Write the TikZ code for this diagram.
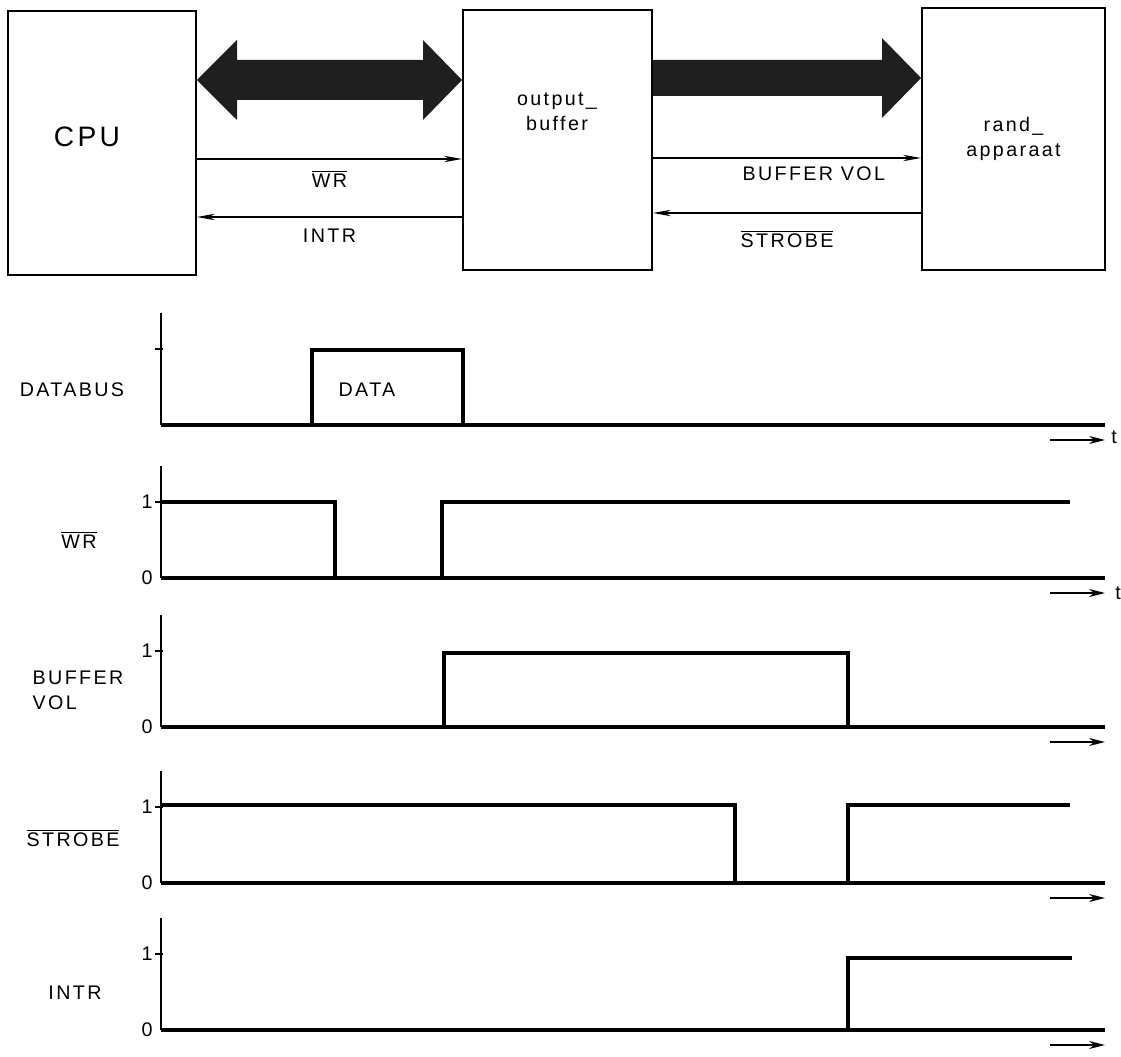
\documentclass[tikz,border=0pt]{standalone}
\usepackage{fontspec}
\setmainfont{Liberation Sans}[LetterSpace=12]
\usetikzlibrary{arrows.meta,positioning,calc}

\newcommand{\inv}[1]{$\overline{\mbox{#1}}$}

\begin{document}
\begin{tikzpicture}[x=0.025cm,y=-0.025cm,>={Stealth[length=4.5mm,width=1.6mm]},
  blok/.style={draw,line width=1.3pt,inner sep=0pt},
  lbl/.style={font=\fontsize{14}{18}\selectfont,align=center,inner sep=1pt},
  sig/.style={line width=2.3pt,line join=miter},
  ax/.style={line width=1.1pt},
  bus/.style={fill=black!88}]
  \useasboundingbox (0,0) rectangle (1121,1057);

  % blokschema
  \node[blok,minimum width=4.7cm,minimum height=6.6cm] (cpu) at (102,143) {};
  \node[font=\fontsize{20}{24}\selectfont] (cputxt) at (87,137) {CPU};
  \node[blok,minimum width=4.725cm,minimum height=6.5cm] (buf) at (557.5,140) {};
  \node[lbl] (buftxt) at (557,112) {output\_\\buffer};
  \node[blok,lbl,minimum width=4.575cm,minimum height=6.55cm] (rand) at (1013.5,139) {rand\_\\apparaat};

  % bussen
  \fill[bus] (cpu.east |- 0,80) -- (237,40) -- (237,60) -- (423,60) -- (423,40)
    -- (buf.west |- 0,80) -- (423,120) -- (423,100) -- (237,100) -- (237,120) -- cycle;
  \fill[bus] (buf.east |- 0,60) -- (882,60) -- (882,38) -- (rand.west |- 0,78)
    -- (882,118) -- (882,96) -- (buf.east |- 0,96) -- cycle;

  % stuursignalen
  \draw[->,line width=0.9pt] (cpu.east |- 0,159) -- (buf.west |- 0,159)
    node[lbl,midway,below=7pt] (lwr) {\inv{WR}};
  \draw[->,line width=0.9pt] (buf.west |- 0,217) -- (cpu.east |- 0,217)
    node[lbl,midway,below=7pt] (lintr) {INTR};
  \draw[->,line width=0.9pt] (buf.east |- 0,158) -- (rand.west |- 0,158)
    node[lbl,pos=0.6,below=5pt] (lbv) {BUFFER VOL};
  \draw[->,line width=0.9pt] (rand.west |- 0,213) -- (buf.east |- 0,213)
    node[lbl,midway,below=11pt] (lstr) {\inv{STROBE}};

  % tijdassen
  \foreach \b in {425,578,727,883,1030} {
    \draw[ax] (161,\b-112) -- (161,\b);
    \draw[ax] (155,\b-76) -- (163,\b-76);
    \draw[sig] (161,\b) -- (1105,\b);
    \draw[->,line width=1.2pt,>={Stealth[length=4mm,width=2mm]}] (1050,\b+15) -- (1105,\b+15);
  }
  \foreach \b in {578,727,883,1030} {
    \node[lbl] at (147,\b) {0};
    \node[lbl] at (147,\b-76) {1};
  }
  \node[lbl] (t1) at (1114,437) {t};
  \node[lbl] (t2) at (1118,593) {t};

  % signaalnamen
  \node[lbl] (ndb) at (72,390) {DATABUS};
  \node[lbl] (nwr) at (79,540) {\inv{WR}};
  \node[lbl,align=left,anchor=west] (nbv) at (31,690) {BUFFER\\VOL};
  \node[lbl] (nstr) at (73,838) {\inv{STROBE}};
  \node[lbl] (nintr) at (75,993) {INTR};

  % signalen
  \draw[sig] (161,425) -- (312,425) -- (312,350) -- (463,350) -- (463,425);
  \node[lbl] (ndata) at (367,390) {DATA};
  \draw[sig] (161,502) -- (335,502) -- (335,578) -- (442,578) -- (442,502) -- (1070,502);
  \draw[sig] (161,727) -- (444,727) -- (444,653) -- (848,653) -- (848,727);
  \draw[sig] (161,805) -- (735,805) -- (735,883) -- (848,883) -- (848,805) -- (1070,805);
  \draw[sig] (848,1030) -- (848,958) -- (1072,958);
\end{tikzpicture}
\end{document}
